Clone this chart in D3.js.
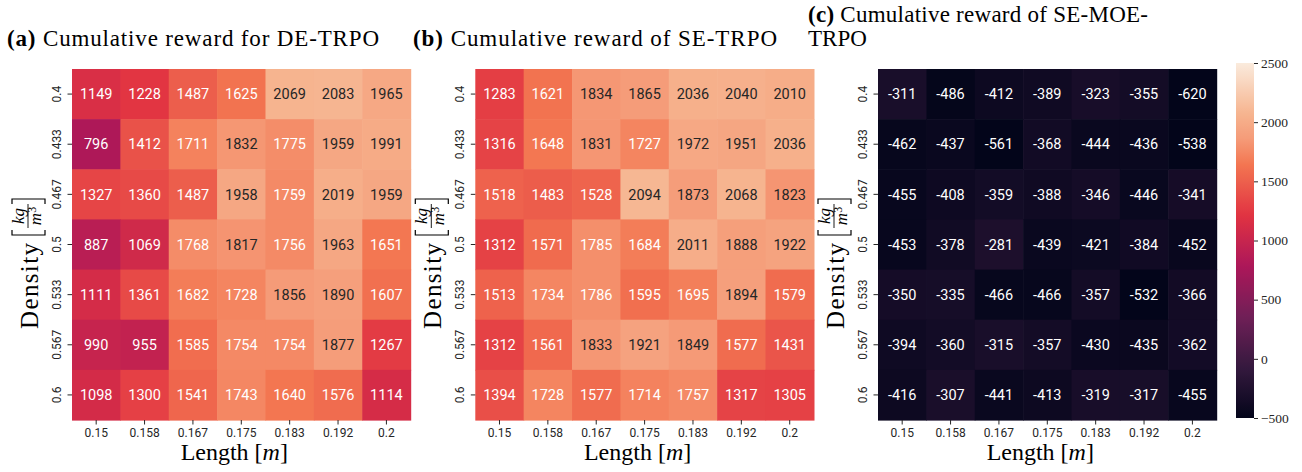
<!DOCTYPE html>
<html>
<head>
<meta charset="utf-8">
<script src="https://cdn.jsdelivr.net/npm/d3@7"></script>
<style>
  html, body { margin: 0; padding: 0; background: #fff; }
  svg { display: block; }
</style>
</head>
<body>
<svg id="chart" width="1302" height="472"></svg>
<script>
// Grid axes: beam length (columns) and material density (rows)
const lengths = ["0.15", "0.158", "0.167", "0.175", "0.183", "0.192", "0.2"];
const densities = ["0.4", "0.433", "0.467", "0.5", "0.533", "0.567", "0.6"];

// Cumulative reward, one row per density, one column per length
const rewardDE = [
  [1149, 1228, 1487, 1625, 2069, 2083, 1965],
  [796, 1412, 1711, 1832, 1775, 1959, 1991],
  [1327, 1360, 1487, 1958, 1759, 2019, 1959],
  [887, 1069, 1768, 1817, 1756, 1963, 1651],
  [1111, 1361, 1682, 1728, 1856, 1890, 1607],
  [990, 955, 1585, 1754, 1754, 1877, 1267],
  [1098, 1300, 1541, 1743, 1640, 1576, 1114]
];
const rewardSE = [
  [1283, 1621, 1834, 1865, 2036, 2040, 2010],
  [1316, 1648, 1831, 1727, 1972, 1951, 2036],
  [1518, 1483, 1528, 2094, 1873, 2068, 1823],
  [1312, 1571, 1785, 1684, 2011, 1888, 1922],
  [1513, 1734, 1786, 1595, 1695, 1894, 1579],
  [1312, 1561, 1833, 1921, 1849, 1577, 1431],
  [1394, 1728, 1577, 1714, 1757, 1317, 1305]
];
const rewardMOE = [
  [-311, -486, -412, -389, -323, -355, -620],
  [-462, -437, -561, -368, -444, -436, -538],
  [-455, -408, -359, -388, -346, -446, -341],
  [-453, -378, -281, -439, -421, -384, -452],
  [-350, -335, -466, -466, -357, -532, -366],
  [-394, -360, -315, -357, -430, -435, -362],
  [-416, -307, -441, -413, -319, -317, -455]
];

// Shared colour range and colour-bar ticks
const colorDomain = [-500, 2500];
const colorbarTicks = [-500, 0, 500, 1000, 1500, 2000, 2500];

// "rocket" colormap anchors (position 0..1, colour), dark to light
const rocketPos = [0, 1 / 7, 2 / 7, 3 / 7, 4 / 7, 5 / 7, 5.5 / 7, 6 / 7, 1];
const rocketHex = ["#03051a", "#35193e", "#701f57", "#ad1759", "#e13342", "#f37651", "#f59b78", "#f6b48f", "#faebdd"];

const svg = d3.select("#chart");
const SERIF = "'Liberation Serif', 'DejaVu Serif', serif";
const SANS = "Roboto, 'DejaVu Sans', sans-serif";

const color = d3.scaleLinear()
  .domain(rocketPos.map(t => colorDomain[0] + (colorDomain[1] - colorDomain[0]) * t))
  .range(rocketHex)
  .interpolate(d3.interpolateRgb)
  .clamp(true);

// seaborn-style annotation colour: dark text on light cells, white otherwise
function relLum(c) {
  const rgb = d3.rgb(c);
  const lin = v => { v /= 255; return v <= 0.03928 ? v / 12.92 : Math.pow((v + 0.055) / 1.055, 2.4); };
  return 0.2126 * lin(rgb.r) + 0.7152 * lin(rgb.g) + 0.0722 * lin(rgb.b);
}

const gridTop = 69, gridBottom = 420, panelW = 338.6;
const panels = [
  { left: 72,    data: rewardDE,  title: [["(a)", " Cumulative reward for DE-TRPO", 372]], titleX: 7 },
  { left: 475.3, data: rewardSE,  title: [["(b)", " Cumulative reward of SE-TRPO", 364]],  titleX: 413 },
  { left: 878,   data: rewardMOE, title: [["(c)", " Cumulative reward of SE-MOE-", 340], ["", "TRPO", null]], titleX: 808 }
];

panels.forEach(p => {
  const x = d3.scaleBand().domain(lengths).range([p.left, p.left + panelW]);
  const y = d3.scaleBand().domain(densities).range([gridTop, gridBottom]);
  const g = svg.append("g");

  // cells
  const cells = [];
  p.data.forEach((row, i) => row.forEach((v, j) => cells.push({ d: densities[i], l: lengths[j], v })));
  g.selectAll("rect.cell").data(cells).join("rect")
    .attr("class", "cell")
    .attr("x", d => x(d.l))
    .attr("y", d => y(d.d))
    .attr("width", x.bandwidth() + 0.6)
    .attr("height", y.bandwidth() + 0.6)
    .attr("fill", d => color(d.v));

  // value annotations
  g.selectAll("text.ann").data(cells).join("text")
    .attr("class", "ann")
    .attr("x", d => x(d.l) + x.bandwidth() / 2)
    .attr("y", d => y(d.d) + y.bandwidth() / 2)
    .attr("dy", "0.36em")
    .attr("text-anchor", "middle")
    .attr("font-family", SANS)
    .attr("font-size", 14.5)
    .attr("fill", d => relLum(color(d.v)) > 0.408 ? "#262626" : "#ffffff")
    .text(d => String(d.v));

  // axes
  const ax = g.append("g").attr("transform", `translate(0,${gridBottom})`)
    .call(d3.axisBottom(x).tickSize(4.5).tickPadding(4));
  const ay = g.append("g").attr("transform", `translate(${p.left},0)`)
    .call(d3.axisLeft(y).tickSize(4.5));
  [ax, ay].forEach(a => {
    a.select(".domain").remove();
    a.selectAll(".tick line").attr("stroke", "#262626").attr("stroke-width", 1);
    a.selectAll(".tick text").attr("font-family", SANS).attr("font-size", 12).attr("fill", "#262626");
  });
  ay.selectAll(".tick text")
    .attr("x", null).attr("dy", null)
    .attr("text-anchor", "middle")
    .attr("transform", "translate(-11,0) rotate(-90)");

  // x label: Length [m]
  const xl = g.append("text")
    .attr("x", p.left + panelW / 2 - 7)
    .attr("y", 460)
    .attr("text-anchor", "middle")
    .attr("font-family", SERIF)
    .attr("font-size", 24)
    .attr("fill", "#000");
  xl.append("tspan").text("Length [");
  xl.append("tspan").attr("font-style", "italic").text("m");
  xl.append("tspan").text("]");

  // y label: Density [kg / m^3]
  const yl = g.append("g").attr("transform", `translate(${p.left - 34},${(gridTop + gridBottom) / 2 + 19}) rotate(-90)`);
  const inner = yl.append("g");
  const w1 = 86;
  inner.append("text")
    .attr("x", 0).attr("y", 0)
    .attr("font-family", SERIF).attr("font-size", 25).attr("fill", "#000")
    .attr("textLength", w1).attr("lengthAdjust", "spacing")
    .text("Density");
  const bx = w1 + 8;
  const bracket = (x0, dir) => `M${x0 + 5 * dir},-26 H${x0} V7 H${x0 + 5 * dir}`;
  inner.append("path").attr("d", bracket(bx, 1)).attr("fill", "none").attr("stroke", "#000").attr("stroke-width", 1.2);
  const fx = bx + 7, fw = 24;
  inner.append("text")
    .attr("x", fx + fw / 2).attr("y", -14.5)
    .attr("text-anchor", "middle")
    .attr("font-family", SERIF).attr("font-style", "italic").attr("font-size", 17)
    .text("kg");
  inner.append("line")
    .attr("x1", fx).attr("x2", fx + fw).attr("y1", -10).attr("y2", -10)
    .attr("stroke", "#000").attr("stroke-width", 0.9);
  const den = inner.append("text")
    .attr("x", fx + fw / 2).attr("y", 2.5)
    .attr("text-anchor", "middle")
    .attr("font-family", SERIF).attr("font-size", 17);
  den.append("tspan").attr("font-style", "italic").text("m");
  den.append("tspan").attr("font-size", 12).attr("dy", -5).text("3");
  const bx2 = fx + fw + 5;
  inner.append("path").attr("d", bracket(bx2, -1)).attr("fill", "none").attr("stroke", "#000").attr("stroke-width", 1.2);
  inner.attr("transform", `translate(${-(bx2 + 1) / 2},0)`);

  // panel title
  p.title.forEach((line, k) => {
    const t = g.append("text")
      .attr("x", p.titleX)
      .attr("y", p.title.length > 1 ? 22 + 24 * k : 46)
      .attr("font-family", SERIF)
      .attr("font-size", 23)
      .attr("fill", "#000");
    if (line[2]) t.attr("textLength", line[2]).attr("lengthAdjust", "spacing");
    if (line[0]) t.append("tspan").attr("font-weight", "bold").text(line[0]);
    t.append("tspan").text(line[1]);
  });
});

// colour bar
const cbX = 1236, cbW = 18, cbTop = 63, cbBottom = 418;
const cbScale = d3.scaleLinear().domain(colorDomain).range([cbBottom, cbTop]);
const grad = svg.append("defs").append("linearGradient")
  .attr("id", "cbgrad").attr("x1", 0).attr("x2", 0).attr("y1", 1).attr("y2", 0);
d3.range(0, 1.0001, 1 / 80).forEach(t => {
  grad.append("stop").attr("offset", t).attr("stop-color", color(colorDomain[0] + t * (colorDomain[1] - colorDomain[0])));
});
svg.append("rect")
  .attr("x", cbX).attr("y", cbTop)
  .attr("width", cbW).attr("height", cbBottom - cbTop)
  .attr("fill", "url(#cbgrad)");
const cbAxis = svg.append("g").attr("transform", `translate(${cbX + cbW},0)`)
  .call(d3.axisRight(cbScale).tickValues(colorbarTicks).tickSize(4).tickPadding(3)
    .tickFormat(v => v < 0 ? "\u2212" + Math.abs(v) : String(v)));
cbAxis.select(".domain").remove();
cbAxis.selectAll(".tick line").attr("stroke", "#262626");
cbAxis.selectAll(".tick text").attr("font-family", SERIF).attr("font-size", 13.5).attr("fill", "#262626");
</script>
</body>
</html>
